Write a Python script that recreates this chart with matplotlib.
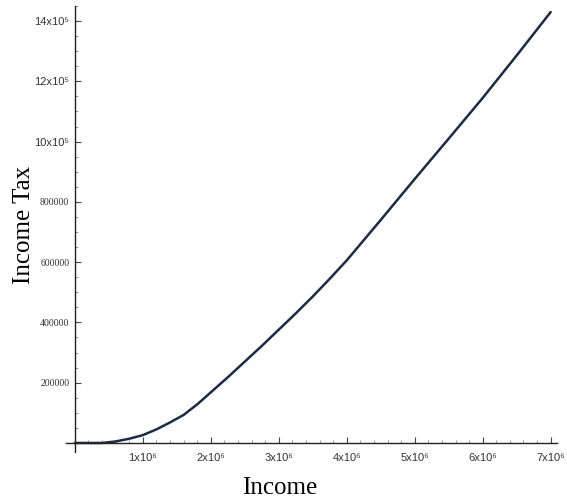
import matplotlib
matplotlib.use("Agg")
import matplotlib.pyplot as plt
from matplotlib.ticker import FixedLocator, MultipleLocator

# income (in currency units) and the tax owed on it
income = [0, 0.2e6, 0.4e6, 0.6e6, 0.8e6, 1.0e6, 1.2e6, 1.4e6, 1.6e6, 1.8e6,
          2.0e6, 2.25e6, 2.5e6, 2.75e6, 3.0e6, 3.25e6, 3.5e6, 3.75e6, 4.0e6,
          4.5e6, 5.0e6, 5.5e6, 6.0e6, 6.5e6, 7.0e6]
tax = [0, 0, 0, 5000, 14000, 26000, 45000, 68000, 93000, 128000,
       168000, 218000, 270000, 322000, 376000, 430000, 486000, 545000, 606000,
       740000, 876000, 1010000, 1145000, 1286000, 1430000]

x_ticks = [1e6, 2e6, 3e6, 4e6, 5e6, 6e6, 7e6]
x_labels = ["1x10⁶", "2x10⁶", "3x10⁶", "4x10⁶", "5x10⁶", "6x10⁶", "7x10⁶"]
y_ticks = [200000, 400000, 600000, 800000, 1000000, 1200000, 1400000]
y_labels = ["200000", "400000", "600000", "800000", "10x10⁵", "12x10⁵", "14x10⁵"]

fig = plt.figure(figsize=(5.67, 5.03), dpi=100)
ax = fig.add_axes([0.1164, 0.1014, 0.8656, 0.8866])

ax.plot(income, tax, color="#1b2b45", linewidth=1.8,
        solid_joinstyle="round", solid_capstyle="round")

ax.set_xlim(-0.13e6, 7.09e6)
ax.set_ylim(-0.03e6, 1.45e6)

# axes cross at the origin, Mathematica-style
for side in ("top", "right"):
    ax.spines[side].set_visible(False)
ax.spines["left"].set_position(("data", 0))
ax.spines["bottom"].set_position(("data", 0))
for side in ("left", "bottom"):
    ax.spines[side].set_linewidth(1.0)
    ax.spines[side].set_color("#222222")

ax.xaxis.set_major_locator(FixedLocator(x_ticks))
ax.xaxis.set_minor_locator(MultipleLocator(0.2e6))
ax.yaxis.set_major_locator(FixedLocator(y_ticks))
ax.yaxis.set_minor_locator(MultipleLocator(50000))
ax.set_xticklabels(x_labels, family=["Liberation Sans", "DejaVu Sans"],
                   fontsize=8, color="#333333")
ax.set_yticklabels(y_labels)
# plain numbers in a small serif, power-of-ten labels in sans
for lab in ax.get_yticklabels():
    if "x" in lab.get_text():
        lab.set_family(["Liberation Sans", "DejaVu Sans"])
        lab.set_fontsize(8)
    else:
        lab.set_family(["Liberation Serif", "DejaVu Sans"])
        lab.set_fontsize(7)
    lab.set_color("#333333")

ax.tick_params(which="major", direction="in", length=4, width=0.8,
               color="#444444")
ax.tick_params(axis="x", which="major", pad=7)
ax.tick_params(axis="y", which="major", pad=4)
ax.tick_params(which="minor", direction="in", length=2, width=0.6,
               color="#888888")

fig.text(0.494, 0.03, "Income", family="Liberation Serif", fontsize=18,
         ha="center", va="center")
fig.text(0.042, 0.553, "Income Tax", family="Liberation Serif", fontsize=18,
         ha="center", va="center", rotation=90)

fig.savefig("out.png", dpi=100, facecolor="white")
